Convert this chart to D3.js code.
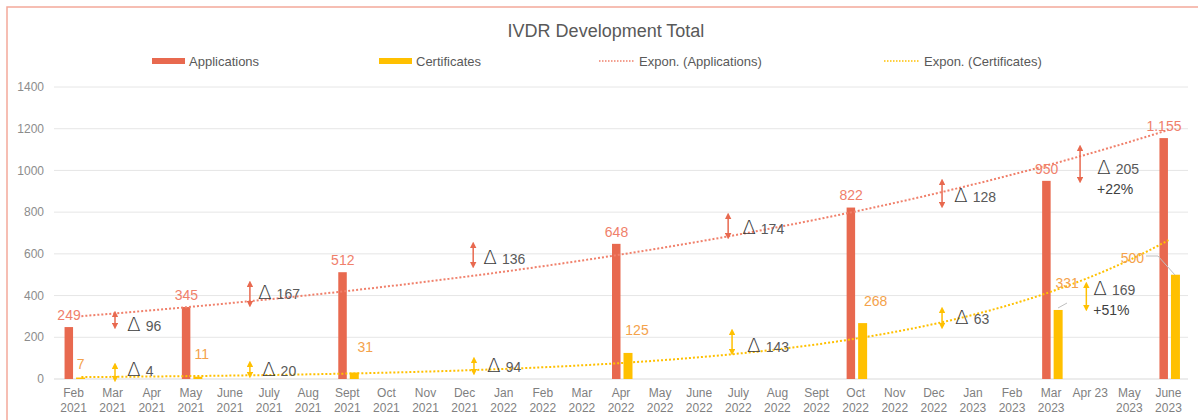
<!DOCTYPE html>
<html>
<head>
<meta charset="utf-8">
<script src="https://cdn.jsdelivr.net/npm/d3@7"></script>
<style>
  body { margin: 0; background: #fff; }
  svg { display: block; font-family: "Liberation Sans", Arial, sans-serif; }
</style>
</head>
<body>
<svg></svg>
<script>
const width = 1198;
const height = 420;

// categories on the x axis
const months = [
  "Feb 2021", "Mar 2021", "Apr 2021", "May 2021", "June 2021", "July 2021", "Aug 2021",
  "Sept 2021", "Oct 2021", "Nov 2021", "Dec 2021", "Jan 2022", "Feb 2022", "Mar 2022",
  "Apr 2022", "May 2022", "June 2022", "July 2022", "Aug 2022", "Sept 2022", "Oct 2022",
  "Nov 2022", "Dec 2022", "Jan 2023", "Feb 2023", "Mar 2023", "Apr 23", "May 2023", "June 2023"
];
// months that have values
const dataMonths = ["Feb 2021", "May 2021", "Sept 2021", "Apr 2022", "Oct 2022", "Mar 2023", "June 2023"];
const applications = [249, 345, 512, 648, 822, 950, 1155];
const certificates = [7, 11, 31, 125, 268, 331, 500];
const yTicks = [0, 200, 400, 600, 800, 1000, 1200, 1400];

// delta callouts: pos = category index, lo/hi = arrow ends, ty = text value
const appDeltas = [
  { pos: 1.06, lo: 240, hi: 326, label: "96", ty: 259, dx: 12 },
  { pos: 4.51, lo: 345, hi: 470, label: "167", ty: 412, dx: 8 },
  { pos: 10.22, lo: 532, hi: 657, label: "136", ty: 580, dx: 10 },
  { pos: 16.74, lo: 671, hi: 796, label: "174", ty: 724, dx: 14 },
  { pos: 22.21, lo: 820, hi: 959, label: "128", ty: 877, dx: 12 },
  { pos: 25.74, lo: 940, hi: 1122, label: "205", pct: "+22%", ty: 1012, dx: 17 }
];
const certDeltas = [
  { pos: 1.06, lo: -14, hi: 77, label: "4", ty: 43, dx: 12 },
  { pos: 4.51, lo: 5, hi: 86, label: "20", ty: 43, dx: 12 },
  { pos: 10.24, lo: 19, hi: 105, label: "94", ty: 62, dx: 13 },
  { pos: 16.84, lo: 115, hi: 240, label: "143", ty: 158, dx: 15 },
  { pos: 22.21, lo: 240, hi: 345, label: "63", ty: 292, dx: 13 },
  { pos: 25.9, lo: 326, hi: 465, label: "169", pct: "+51%", ty: 432, dx: 7 }
];
// hand-moved certificate labels (pixel nudges) and leader lines
const certLabelNudge = [[0, 0], [4, -10], [11, -12], [9, -10], [13, -9], [9, -14], [-43, -4]];

const appColor = "#E8694F";
const appLabelColor = "#F0806B";
const certColor = "#FFC000";
const certLabelColor = "#F4A24B";

const margin = { top: 87, right: 10, bottom: 41, left: 54 };
const plotW = 1188 - margin.left;
const plotH = 379 - margin.top;

const svg = d3.select("svg").attr("width", width).attr("height", height);

// chart border
svg.append("rect")
  .attr("x", 7).attr("y", 7).attr("width", 1210).attr("height", 500)
  .attr("fill", "none").attr("stroke", "#F4A99B").attr("stroke-width", 1.5);

svg.append("text")
  .attr("x", 606).attr("y", 37)
  .attr("text-anchor", "middle")
  .attr("font-size", 18).attr("fill", "#595959")
  .text("IVDR Development Total");

const x = d3.scaleBand().domain(months).range([0, plotW]).padding(0);
const bw = x.bandwidth();
const xPos = i => (i + 0.5) * bw;
const y = d3.scaleLinear().domain([0, 1400]).range([plotH, 0]);

const g = svg.append("g").attr("transform", `translate(${margin.left},${margin.top})`);

// grid + y labels
g.append("g")
  .selectAll("line").data(yTicks).join("line")
  .attr("x1", 0).attr("x2", plotW)
  .attr("y1", d => y(d)).attr("y2", d => y(d))
  .attr("stroke", d => d === 0 ? "#D9D9D9" : "#E6E6E6").attr("stroke-width", 1);

g.append("g")
  .selectAll("text").data(yTicks).join("text")
  .attr("x", -10).attr("y", d => y(d)).attr("dy", "0.35em")
  .attr("text-anchor", "end").attr("font-size", 12).attr("fill", "#8C8C8C")
  .text(d => d);

// x labels
const xl = g.append("g").selectAll("text").data(months).join("text")
  .attr("text-anchor", "middle").attr("font-size", 12).attr("fill", "#7F7F7F")
  .attr("transform", d => `translate(${x(d) + bw / 2},${plotH + 18})`);
xl.each(function (d) {
  const parts = d === "Apr 23" ? [d] : d.split(" ");
  d3.select(this).selectAll("tspan").data(parts).join("tspan")
    .attr("x", 0).attr("dy", (p, i) => i === 0 ? 0 : 15)
    .text(p => p);
});

// bars
const bars = dataMonths.map((m, i) => ({ m, app: applications[i], cert: certificates[i] }));
g.append("g").selectAll("rect").data(bars).join("rect")
  .attr("x", d => x(d.m) + bw / 2 - 9).attr("width", 8.5)
  .attr("y", d => y(d.app)).attr("height", d => plotH - y(d.app))
  .attr("fill", appColor);
g.append("g").selectAll("rect").data(bars).join("rect")
  .attr("x", d => x(d.m) + bw / 2 + 2.5).attr("width", 9)
  .attr("y", d => y(d.cert)).attr("height", d => plotH - y(d.cert))
  .attr("fill", certColor);

// value labels (drawn under the trendlines, white halo)
const fmt = d3.formatLocale({ decimal: ",", thousands: ".", grouping: [3], currency: ["", ""] }).format(",");
g.append("g").selectAll("text").data(bars).join("text")
  .attr("x", d => x(d.m) + bw / 2 - 4.5).attr("y", d => y(d.app) - 12)
  .attr("dy", "0.35em").attr("text-anchor", "middle")
  .attr("font-size", 14).attr("fill", appLabelColor)
  .text(d => fmt(d.app));

// exponential trendlines (least squares on ln y vs category index)
function expFit(vals) {
  const xs = dataMonths.map(m => months.indexOf(m));
  const ls = vals.map(v => Math.log(v));
  const mx = d3.mean(xs), my = d3.mean(ls);
  const b = d3.sum(xs, (xi, i) => (xi - mx) * (ls[i] - my)) / d3.sum(xs, xi => (xi - mx) ** 2);
  const a = my - b * mx;
  return t => Math.exp(a + b * t);
}
const steps = d3.range(0.2, months.length - 1 + 0.001, 0.2);
const line = d3.line().x(d => xPos(d[0])).y(d => y(d[1]));
[[applications, appLabelColor], [certificates, certColor]].forEach(([vals, col]) => {
  const f = expFit(vals);
  g.append("path")
    .attr("d", line(steps.map(t => [t, f(t)])))
    .attr("fill", "none").attr("stroke", col)
    .attr("stroke-width", 2).attr("stroke-dasharray", "2,2");
});

g.append("g").selectAll("text").data(bars).join("text")
  .attr("x", (d, i) => x(d.m) + bw / 2 + 7 + certLabelNudge[i][0])
  .attr("y", (d, i) => y(d.cert) - 13 + certLabelNudge[i][1])
  .attr("dy", "0.35em").attr("text-anchor", "middle")
  .attr("font-size", 14).attr("fill", certLabelColor)
  .text(d => fmt(d.cert));

// leader lines for the two moved labels
const leaders = [
  [[1058, 308], [1067, 303]],
  [[1146, 256], [1158, 256], [1175, 275]]
];
svg.append("g").selectAll("path").data(leaders).join("path")
  .attr("d", d => d3.line()(d))
  .attr("fill", "none").attr("stroke", "#BFBFBF").attr("stroke-width", 1);

// arrows + delta text
const defs = svg.append("defs");
[["red", appColor], ["yel", certColor]].forEach(([id, col]) => {
  defs.append("marker").attr("id", "ah-" + id)
    .attr("viewBox", "0 0 10 10").attr("refX", 5).attr("refY", 5)
    .attr("markerWidth", 4.5).attr("markerHeight", 4.5).attr("orient", "auto-start-reverse")
    .append("path").attr("d", "M0,0 L10,5 L0,10 Z").attr("fill", col);
});

function drawDeltas(list, col, id) {
  const grp = g.append("g");
  grp.selectAll("line").data(list).join("line")
    .attr("x1", d => xPos(d.pos)).attr("x2", d => xPos(d.pos))
    .attr("y1", d => y(d.lo) - 3).attr("y2", d => y(d.hi) + 3)
    .attr("stroke", col).attr("stroke-width", 1.5)
    .attr("marker-start", `url(#ah-${id})`).attr("marker-end", `url(#ah-${id})`);
  const t = grp.selectAll("text.delta").data(list).join("text")
    .attr("class", "delta")
    .attr("x", d => xPos(d.pos) + d.dx).attr("y", d => y(d.ty) + 6)
    .attr("fill", "#404040");
  t.append("tspan").attr("font-size", 20).attr("font-family", "'DejaVu Sans', sans-serif")
    .attr("font-weight", 200).attr("fill", "#3A3A3A").text("Δ");
  t.append("tspan").attr("dx", 5).attr("font-size", 14).attr("fill", "#595959").text(d => d.label);
  grp.selectAll("text.pct").data(list.filter(d => d.pct)).join("text")
    .attr("class", "pct")
    .attr("x", d => xPos(d.pos) + d.dx).attr("y", d => y(d.ty) + 26)
    .attr("font-size", 14).attr("fill", "#404040")
    .text(d => d.pct);
}
drawDeltas(appDeltas, appColor, "red");
drawDeltas(certDeltas, certColor, "yel");

// legend
const legend = svg.append("g").attr("font-size", 13).attr("fill", "#595959");
const legendItems = [
  { x: 152, label: "Applications", kind: "bar", col: appColor },
  { x: 379, label: "Certificates", kind: "bar", col: certColor },
  { x: 599, label: "Expon. (Applications)", kind: "dot", col: appLabelColor },
  { x: 884, label: "Expon. (Certificates)", kind: "dot", col: certColor }
];
legendItems.forEach(d => {
  if (d.kind === "bar") {
    legend.append("rect").attr("x", d.x).attr("y", 58).attr("width", 33).attr("height", 6).attr("fill", d.col);
  } else {
    legend.append("line").attr("x1", d.x).attr("x2", d.x + 36).attr("y1", 61).attr("y2", 61)
      .attr("stroke", d.col).attr("stroke-width", 1.5).attr("stroke-dasharray", "1.5,1.5");
  }
  legend.append("text").attr("x", d.x + (d.kind === "bar" ? 37 : 40)).attr("y", 61)
    .attr("dy", "0.35em").text(d.label);
});
</script>
</body>
</html>
